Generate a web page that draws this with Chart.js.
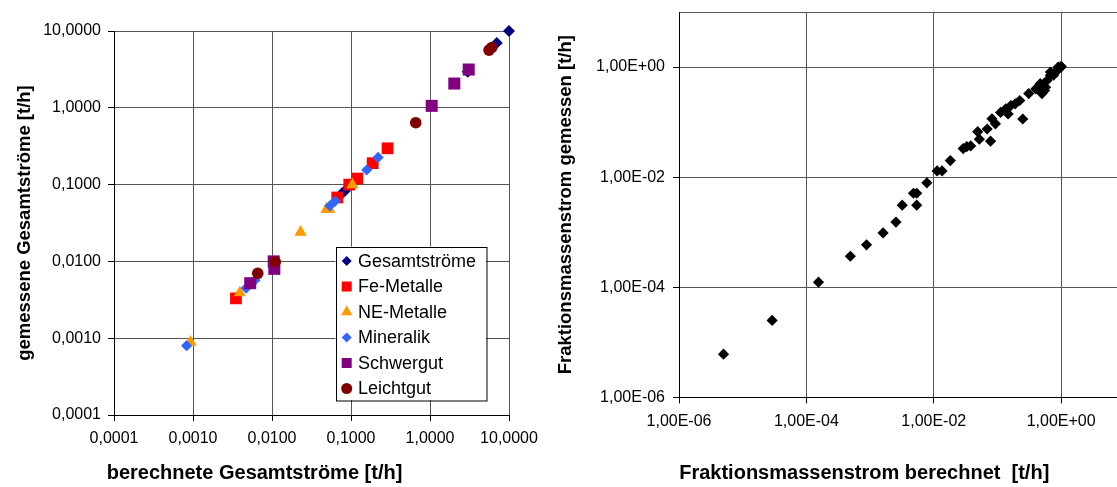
<!DOCTYPE html>
<html>
<head>
<meta charset="utf-8">
<script src="https://cdn.jsdelivr.net/npm/chart.js@4"></script>
<style>
  html, body { margin: 0; padding: 0; background: #fff; overflow: hidden; width: 1117px; height: 487px; }
  .box { position: absolute; top: 0; height: 487px; }
  #left { left: 0; width: 592px; }
  #right { left: 540px; width: 709px; }
</style>
</head>
<body>
<div class="box" id="left"><canvas id="gesamt"></canvas></div>
<div class="box" id="right"><canvas id="fraktion"></canvas></div>
<script>
// linke Grafik: Gesamtströme, berechnet (x) gegen gemessen (y), t/h
const gesamtBerechnet = [0.077, 0.084, 3.0, 7.0, 10.0];
const gesamtGemessen  = [0.077, 0.083, 2.95, 7.0, 10.0];
const feBerechnet = [0.0035, 0.067, 0.095, 0.12, 0.188, 0.29];
const feGemessen  = [0.0033, 0.068, 0.10, 0.12, 0.19, 0.297];
const neBerechnet = [0.00093, 0.0039, 0.023, 0.049, 0.053, 0.104];
const neGemessen  = [0.00089, 0.0039, 0.024, 0.048, 0.048, 0.10];
const minBerechnet = [0.00083, 0.0047, 0.0061, 0.054, 0.063, 0.158, 0.22];
const minGemessen  = [0.0008, 0.0045, 0.0057, 0.053, 0.061, 0.155, 0.226];
const schwerBerechnet = [0.0053, 0.0105, 0.0107, 1.05, 2.03, 3.09];
const schwerGemessen  = [0.0052, 0.0100, 0.0080, 1.06, 2.07, 3.15];
const leichtBerechnet = [0.0066, 0.011, 0.66, 5.58, 6.04];
const leichtGemessen  = [0.0070, 0.0099, 0.64, 5.64, 6.1];

const gesamtTicks = [0.0001, 0.001, 0.01, 0.1, 1, 10];
const gesamtTickLabels = ['0,0001', '0,0010', '0,0100', '0,1000', '1,0000', '10,0000'];

// rechte Grafik: Fraktionsmassenströme
const fraktionBerechnet = [5.0e-6, 2.9e-5, 1.55e-4, 4.9e-4, 8.8e-4, 1.6e-3, 2.55e-3, 3.2e-3, 4.8e-3, 5.4e-3,
  5.4e-3, 7.8e-3, 1.13e-2, 1.35e-2, 1.82e-2, 2.9e-2, 3.3e-2, 3.8e-2, 7.8e-2, 4.9e-2,
  5.2e-2, 6.9e-2, 8.2e-2, 9.3e-2, 0.112, 0.135, 0.147, 0.162, 0.19, 0.224,
  0.25, 0.31, 0.40, 0.47, 0.55, 0.50, 0.46, 0.57, 0.60, 0.68,
  0.68, 0.76, 0.77, 0.87, 0.9, 1.0, 1.0];
const fraktionGemessen = [6.1e-6, 2.5e-5, 1.24e-4, 3.66e-4, 5.9e-4, 9.7e-4, 1.53e-3, 3.1e-3, 5.1e-3, 5.1e-3,
  3.1e-3, 7.9e-3, 1.3e-2, 1.3e-2, 2.0e-2, 3.3e-2, 3.6e-2, 3.7e-2, 4.5e-2, 6.7e-2,
  4.9e-2, 7.5e-2, 0.115, 9.3e-2, 0.15, 0.174, 0.141, 0.20, 0.215, 0.247,
  0.114, 0.33, 0.40, 0.50, 0.376, 0.33, 0.375, 0.43, 0.57, 0.71,
  0.81, 0.71, 0.76, 0.87, 1.0, 1.0, 1.03];

const fraktionXTicks = [1e-6, 1e-4, 1e-2, 1, 100];
const fraktionXLabels = ['1,00E-06', '1,00E-04', '1,00E-02', '1,00E+00', '1,00E+02'];
const fraktionYTicks = [1e-6, 1e-4, 1e-2, 1, 10];
const fraktionYLabels = ['1,00E-06', '1,00E-04', '1,00E-02', '1,00E+00', ''];

Chart.defaults.font.family = '"Liberation Sans", Arial, sans-serif';
Chart.defaults.color = '#000';

const pairs = (xs, ys) => xs.map((x, i) => ({ x: x, y: ys[i] }));
const fixTicks = values => scale => { scale.ticks = values.map(v => ({ value: v })); };

const series = [
  { label: 'Gesamtströme', data: pairs(gesamtBerechnet, gesamtGemessen), color: '#000080', style: 'rectRot', r: 6, lr: 5 },
  { label: 'Fe-Metalle', data: pairs(feBerechnet, feGemessen), color: '#ff0000', style: 'rect', r: 8.3, lr: 5 },
  { label: 'NE-Metalle', data: pairs(neBerechnet, neGemessen), color: '#ff9900', style: 'triangle', r: 7.1, lr: 6.5 },
  { label: 'Mineralik', data: pairs(minBerechnet, minGemessen), color: '#3366ff', style: 'rectRot', r: 5.6, lr: 5 },
  { label: 'Schwergut', data: pairs(schwerBerechnet, schwerGemessen), color: '#800080', style: 'rect', r: 8.5, lr: 5 },
  { label: 'Leichtgut', data: pairs(leichtBerechnet, leichtGemessen), color: '#800000', style: 'circle', r: 5.8, lr: 5.5 }
];

function drawMarker(ctx, style, x, y, r) {
  ctx.beginPath();
  if (style === 'rectRot') {
    ctx.moveTo(x - r, y); ctx.lineTo(x, y - r); ctx.lineTo(x + r, y); ctx.lineTo(x, y + r);
  } else if (style === 'rect') {
    ctx.rect(x - r, y - r, 2 * r, 2 * r);
  } else if (style === 'triangle') {
    ctx.moveTo(x, y - r); ctx.lineTo(x + r * 0.866, y + r / 2); ctx.lineTo(x - r * 0.866, y + r / 2);
  } else {
    ctx.arc(x, y, r, 0, Math.PI * 2);
  }
  ctx.closePath();
  ctx.fill();
}

// Legende im Diagrammfeld, wie im Original
const boxLegend = {
  id: 'boxLegend',
  afterDatasetsDraw(chart, args, o) {
    const { ctx, chartArea } = chart;
    const x = chartArea.left + o.left, y = chartArea.top + o.top;
    ctx.save();
    ctx.fillStyle = '#fff';
    ctx.fillRect(x, y, o.width, o.height);
    ctx.strokeStyle = '#000';
    ctx.lineWidth = 1;
    ctx.strokeRect(Math.round(x) + 0.5, Math.round(y) + 0.5, o.width, o.height);
    ctx.font = '18px "Liberation Sans", Arial, sans-serif';
    ctx.textBaseline = 'middle';
    series.forEach((s, i) => {
      const cy = y + o.firstRow + i * o.rowGap;
      ctx.fillStyle = s.color;
      drawMarker(ctx, s.style, x + o.markerX, cy, s.lr);
      ctx.fillStyle = '#000';
      ctx.fillText(s.label, x + o.textX, cy + 1);
    });
    ctx.restore();
  }
};

const gridOpts = { color: '#555', lineWidth: 1, tickLength: 6, tickColor: '#000' };

new Chart(document.getElementById('gesamt'), {
  type: 'scatter',
  data: {
    datasets: series.map((s, i) => ({
      label: s.label,
      data: s.data,
      pointStyle: s.style,
      pointRadius: s.r,
      backgroundColor: s.color,
      borderColor: s.color,
      borderWidth: 0,
      clip: false,
      order: series.length - i
    }))
  },
  options: {
    responsive: true,
    maintainAspectRatio: false,
    animation: false,
    events: [],
    layout: { padding: { left: 0, top: 31, right: 83, bottom: 0 } },
    scales: {
      x: {
        type: 'logarithmic',
        min: 0.0001,
        max: 10,
        afterBuildTicks: fixTicks(gesamtTicks),
        afterFit: scale => { scale.height = 46; },
        ticks: { autoSkip: false, maxRotation: 0, padding: 8, font: { size: 16 }, callback: (v, i) => gesamtTickLabels[i] },
        grid: gridOpts,
        border: { color: '#000', width: 1 }
      },
      y: {
        type: 'logarithmic',
        min: 0.0001,
        max: 10,
        afterBuildTicks: fixTicks(gesamtTicks),
        afterFit: scale => { scale.width = 114; },
        ticks: { autoSkip: false, padding: 7, font: { size: 16 }, callback: (v, i) => gesamtTickLabels[i] },
        grid: gridOpts,
        border: { color: '#000', width: 1 },
        title: { display: true, text: 'gemessene Gesamtströme [t/h]', font: { size: 18.5, weight: 'bold' }, padding: { top: 13.4, bottom: 0 } }
      }
    },
    plugins: {
      legend: { display: false },
      tooltip: { enabled: false },
      title: { display: true, position: 'bottom', text: 'berechnete Gesamtströme [t/h]', font: { size: 20, weight: 'bold' }, padding: { top: 0, bottom: 2 } },
      boxLegend: { left: 221.5, top: 215.5, width: 150.5, height: 153.5, markerX: 11.2, textX: 22.5, firstRow: 14.5, rowGap: 25.5 }
    }
  },
  plugins: [boxLegend]
});

new Chart(document.getElementById('fraktion'), {
  type: 'scatter',
  data: {
    datasets: [{
      label: 'Fraktionsmassenstrom',
      data: pairs(fraktionBerechnet, fraktionGemessen),
      pointStyle: 'rectRot',
      pointRadius: 5.6,
      backgroundColor: '#000',
      borderColor: '#000',
      borderWidth: 0,
      clip: false
    }]
  },
  options: {
    responsive: true,
    maintainAspectRatio: false,
    animation: false,
    events: [],
    layout: { padding: { left: 0, top: 12, right: 60.5, bottom: 0 } },
    scales: {
      x: {
        type: 'logarithmic',
        min: 1e-6,
        max: 100,
        afterBuildTicks: fixTicks(fraktionXTicks),
        afterFit: scale => { scale.height = 63.6; },
        ticks: { autoSkip: false, maxRotation: 0, padding: 9, font: { size: 16 }, callback: (v, i) => fraktionXLabels[i] },
        grid: gridOpts,
        border: { color: '#000', width: 1 }
      },
      y: {
        type: 'logarithmic',
        min: 1e-6,
        max: 10,
        afterBuildTicks: fixTicks(fraktionYTicks),
        afterFit: scale => { scale.width = 139; scale.paddingTop = 0; },
        ticks: { autoSkip: false, padding: 8, font: { size: 16 }, callback: (v, i) => fraktionYLabels[i] },
        grid: Object.assign({}, gridOpts, { tickColor: ctx => (ctx.tick && ctx.tick.value === 10 ? 'rgba(0,0,0,0)' : '#000') }),
        border: { color: '#000', width: 1 },
        title: { display: true, text: 'Fraktionsmassenstrom gemessen [t/h]', font: { size: 18.5, weight: 'bold' }, padding: { top: 14.9, bottom: 0 } }
      }
    },
    plugins: {
      legend: { display: false },
      tooltip: { enabled: false },
      title: { display: true, position: 'bottom', text: 'Fraktionsmassenstrom berechnet  [t/h]', font: { size: 20, weight: 'bold' }, padding: { top: 0, bottom: 2 } }
    }
  }
});
</script>
</body>
</html>
